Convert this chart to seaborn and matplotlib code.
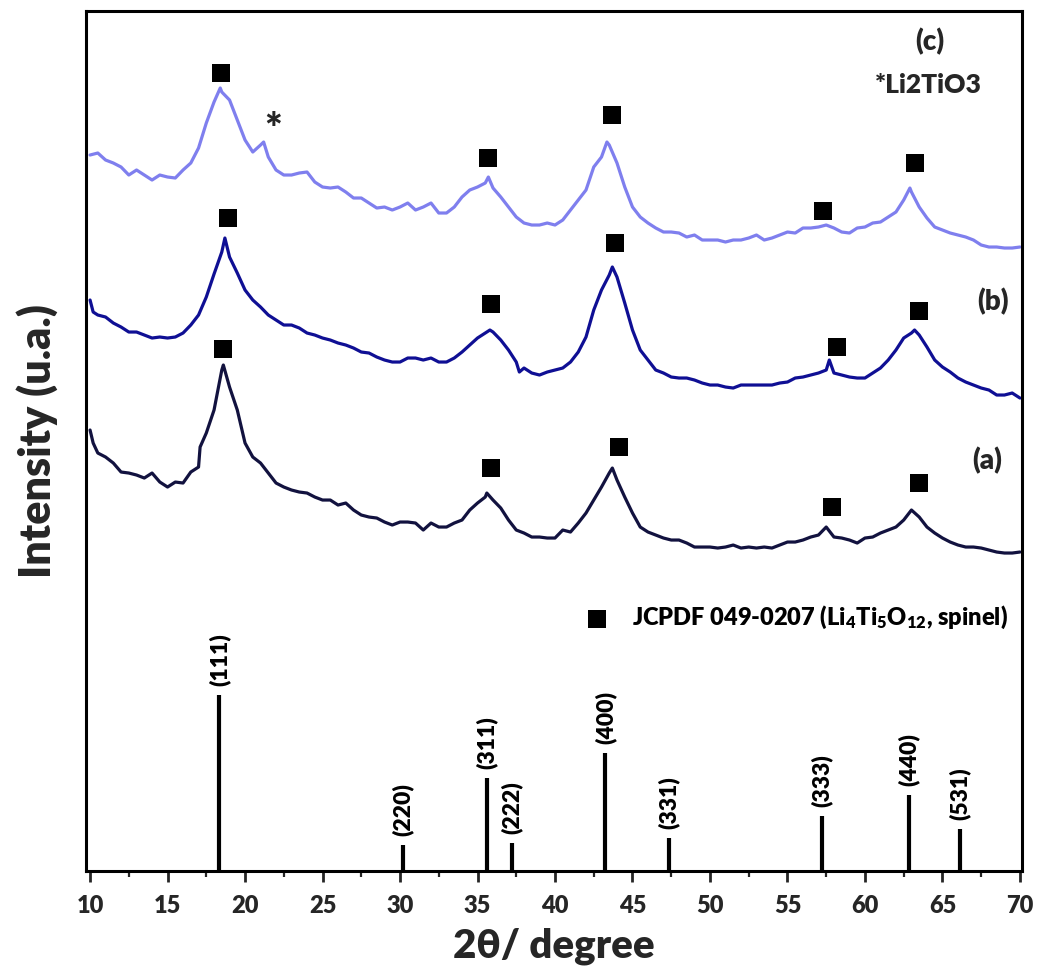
import numpy as np
import pandas as pd
import matplotlib
matplotlib.use("Agg")
import matplotlib.pyplot as plt
import seaborn as sns

# ---- measured XRD patterns (2theta in degrees, intensity in a.u., stacked) ----
tt_c = [10, 10.5, 11, 11.5, 12, 12.5, 13, 13.5, 14, 14.5, 15, 15.5, 16, 16.5, 17, 17.5, 18, 18.4, 18.5,
        19, 19.5, 20, 20.5, 21, 21.2, 21.5, 22, 22.5, 23, 23.5, 24, 24.5, 25, 25.5, 26, 26.5, 27, 27.5,
        28, 28.5, 29, 29.5, 30, 30.5, 31, 31.5, 32, 32.5, 33, 33.5, 34, 34.5, 35, 35.5, 35.7, 36, 36.5,
        37, 37.5, 38, 38.5, 39, 39.5, 40, 40.5, 41, 41.5, 42, 42.5, 43, 43.35, 43.5, 44, 44.5, 45, 45.5,
        46, 46.5, 47, 47.5, 48, 48.5, 49, 49.5, 50, 50.5, 51, 51.5, 52, 52.5, 53, 53.5, 54, 54.5, 55,
        55.5, 56, 56.5, 57, 57.5, 58, 58.5, 59, 59.5, 60, 60.5, 61, 61.5, 62, 62.5, 62.9, 63, 63.5, 64,
        64.5, 65, 65.5, 66, 66.5, 67, 67.5, 68, 68.5, 69, 69.5, 70]
int_c = [716, 718, 711, 708, 704, 696, 701, 696, 691, 696, 694, 693, 701, 708, 723, 748, 769, 783, 779,
         771, 751, 731, 719, 726, 729, 714, 701, 696, 696, 698, 699, 689, 684, 683, 684, 679, 673, 673,
         668, 663, 664, 661, 664, 668, 661, 664, 668, 658, 658, 664, 674, 681, 684, 688, 694, 683, 674,
         664, 654, 648, 646, 646, 648, 646, 651, 661, 671, 681, 704, 714, 729, 726, 708, 684, 664, 654,
         648, 643, 639, 639, 638, 634, 636, 631, 631, 631, 629, 631, 631, 633, 636, 631, 633, 636, 639,
         638, 643, 643, 644, 646, 643, 639, 638, 643, 644, 648, 649, 654, 659, 671, 683, 679, 664, 653,
         644, 641, 638, 636, 634, 631, 626, 624, 624, 623, 623, 624]

tt_b = [10, 10.2, 10.5, 11, 11.5, 12, 12.5, 13, 13.5, 14, 14.5, 15, 15.5, 16, 16.5, 17, 17.5, 18, 18.5,
        18.7, 19, 19.5, 20, 20.5, 21, 21.5, 22, 22.5, 23, 23.5, 24, 24.5, 25, 25.5, 26, 26.5, 27, 27.5,
        28, 28.5, 29, 29.5, 30, 30.5, 31, 31.5, 32, 32.5, 33, 33.5, 34, 34.5, 35, 35.5, 35.8, 36, 36.5,
        37, 37.5, 37.7, 38, 38.5, 39, 39.5, 40, 40.5, 41, 41.5, 42, 42.5, 43, 43.5, 43.7, 44, 44.5, 45,
        45.5, 46, 46.5, 47, 47.5, 48, 48.5, 49, 49.5, 50, 50.5, 51, 51.5, 52, 52.5, 53, 53.5, 54, 54.5,
        55, 55.5, 56, 56.5, 57, 57.5, 57.7, 58, 58.5, 59, 59.5, 60, 60.5, 61, 61.5, 62, 62.5, 63, 63.2,
        63.5, 64, 64.5, 65, 65.5, 66, 66.5, 67, 67.5, 68, 68.5, 69, 69.5, 70]
int_b = [571, 559, 556, 554, 548, 544, 539, 539, 536, 533, 534, 533, 534, 538, 546, 556, 574, 597, 619,
         633, 614, 598, 581, 571, 564, 556, 551, 546, 546, 543, 538, 536, 533, 531, 528, 526, 523, 519,
         518, 514, 511, 509, 509, 513, 513, 511, 513, 509, 509, 513, 519, 526, 533, 538, 541, 539, 531,
         521, 509, 499, 503, 498, 496, 499, 501, 503, 509, 519, 534, 561, 581, 596, 604, 594, 568, 541,
         521, 511, 501, 498, 494, 493, 493, 491, 488, 486, 486, 484, 483, 486, 486, 486, 486, 486, 488,
         489, 493, 494, 496, 498, 501, 511, 498, 496, 494, 493, 493, 498, 503, 511, 521, 533, 538, 541,
         536, 524, 511, 504, 499, 493, 489, 486, 483, 481, 476, 476, 478, 473]

tt_a = [10, 10.2, 10.5, 11, 11.5, 12, 12.5, 13, 13.5, 14, 14.5, 15, 15.5, 16, 16.5, 17, 17.1, 17.5, 18,
        18.5, 18.6, 19, 19.5, 20, 20.5, 21, 21.5, 22, 22.5, 23, 23.5, 24, 24.5, 25, 25.5, 26, 26.5, 27,
        27.5, 28, 28.5, 29, 29.5, 30, 30.5, 31, 31.5, 32, 32.5, 33, 33.5, 34, 34.5, 35, 35.5, 35.6, 36,
        36.5, 37, 37.5, 38, 38.5, 39, 39.5, 40, 40.5, 41, 41.5, 42, 42.5, 43, 43.5, 43.7, 44, 44.5, 45,
        45.5, 46, 46.5, 47, 47.5, 48, 48.5, 49, 49.5, 50, 50.5, 51, 51.5, 52, 52.5, 53, 53.5, 54, 54.5,
        55, 55.5, 56, 56.5, 57, 57.5, 58, 58.5, 59, 59.5, 60, 60.5, 61, 61.5, 62, 62.5, 63, 63.5, 64,
        64.5, 65, 65.5, 66, 66.5, 67, 67.5, 68, 68.5, 69, 69.5, 70]
int_a = [441, 428, 418, 414, 408, 399, 398, 396, 393, 398, 389, 384, 389, 388, 399, 404, 424, 438, 461,
         501, 506, 484, 461, 428, 414, 408, 398, 388, 384, 381, 379, 378, 374, 371, 371, 366, 368, 361,
         356, 354, 353, 349, 346, 349, 349, 348, 341, 348, 344, 344, 348, 351, 361, 368, 374, 378, 371,
         363, 351, 341, 338, 334, 334, 333, 333, 341, 339, 348, 358, 371, 384, 398, 403, 391, 374, 358,
         344, 339, 336, 333, 331, 331, 328, 324, 324, 324, 323, 324, 326, 323, 324, 323, 324, 323, 326,
         329, 329, 331, 334, 336, 344, 334, 333, 331, 328, 333, 334, 338, 341, 344, 351, 361, 354, 344,
         338, 333, 329, 326, 324, 324, 323, 321, 319, 318, 318, 319]

# ---- spinel peak markers on each pattern ----
mark_c_x = [18.45, 35.7, 43.7, 57.3, 63.2]
mark_c_y = [798, 713, 756, 660, 708]
mark_b_x = [18.9, 35.9, 43.9, 58.2, 63.5]
mark_b_y = [653, 567, 628, 524, 560]
mark_a_x = [18.6, 35.9, 44.1, 57.9, 63.5]
mark_a_y = [522, 403, 424, 364, 388]

# ---- JCPDF 049-0207 reference lines (Li4Ti5O12) ----
ref_pos = [18.35, 30.2, 35.6, 37.2, 43.25, 47.35, 57.2, 62.85, 66.1]
ref_rel = [100, 15, 53, 16, 67, 19, 31, 43, 24]
ref_hkl = ["(111)", "(220)", "(311)", "(222)", "(400)", "(331)", "(333)", "(440)", "(531)"]
ref_scale = 1.76

xticks = [10, 15, 20, 25, 30, 35, 40, 45, 50, 55, 60, 65, 70]

sns.set_theme(style="ticks")
plt.rcParams["font.family"] = ["Lato", "DejaVu Sans"]
plt.rcParams["font.weight"] = "bold"
plt.rcParams["mathtext.fontset"] = "custom"
plt.rcParams["mathtext.rm"] = "Lato:heavy"
plt.rcParams["mathtext.bf"] = "Lato:heavy"
plt.rcParams["mathtext.it"] = "Lato:heavy"

W = "heavy"

fig = plt.figure(figsize=(10.39, 9.74), dpi=100)
ax = fig.add_axes([0.0828, 0.1057, 0.9008, 0.883])

col_c = "#7f7fee"
col_b = "#0f0f94"
col_a = "#12123f"

for tt, inten, col in [(tt_c, int_c, col_c), (tt_b, int_b, col_b), (tt_a, int_a, col_a)]:
    df = pd.DataFrame({"two_theta": tt, "intensity": inten})
    sns.lineplot(data=df, x="two_theta", y="intensity", ax=ax, color=col, linewidth=2.3,
                 estimator=None, sort=False)

marks = pd.DataFrame({"x": mark_c_x + mark_b_x + mark_a_x + [42.7],
                      "y": mark_c_y + mark_b_y + mark_a_y + [252]})
sns.scatterplot(data=marks, x="x", y="y", ax=ax, marker="s", s=160, color="black",
                edgecolor="black", linewidth=0, zorder=5)

# stick pattern
heights = [r * ref_scale for r in ref_rel]
ax.vlines(ref_pos, 0, heights, colors="black", linewidth=3.0)
for p, h, lab in zip(ref_pos, heights, ref_hkl):
    ax.text(p, h + 9, lab, rotation=90, ha="center", va="bottom", fontsize=16.5,
            fontweight=W, color="black")

ax.text(45.0, 254, r"JCPDF 049-0207 (Li$_{4}$Ti$_{5}$O$_{12}$, spinel)", ha="left", va="center",
        fontsize=17, fontweight=W, color="black")
ax.text(64.2, 829, "(c)", ha="center", va="center", fontsize=20, fontweight=W)
ax.text(64.1, 786, "*Li2TiO3", ha="center", va="center", fontsize=19, fontweight=W)
ax.text(68.26, 569, "(b)", ha="center", va="center", fontsize=20, fontweight=W)
ax.text(67.9, 410, "(a)", ha="center", va="center", fontsize=20, fontweight=W)
ax.text(21.8, 740, "*", ha="center", va="center", fontsize=30, fontweight=W)

ax.set_xlim(9.74, 70.13)
ax.set_ylim(0, 860)
ax.set_xticks(xticks)
ax.set_xticks([x + 2.5 for x in xticks[:-1]], minor=True)
ax.set_yticks([])
ax.tick_params(axis="x", which="major", direction="out", length=8, width=2, labelsize=17,
               pad=9, top=False, bottom=True)
ax.tick_params(axis="x", which="minor", direction="out", length=4, width=1.6, top=False, bottom=True)
for lab in ax.get_xticklabels():
    lab.set_fontweight(W)
for sp in ax.spines.values():
    sp.set_visible(True)
    sp.set_linewidth(2.2)
    sp.set_color("black")

ax.set_xlabel("2θ/ degree", fontsize=29, fontweight=W, labelpad=8)
ax.set_ylabel("Intensity (u.a.)", fontsize=31, fontweight=W, labelpad=20)

fig.savefig("out.png", dpi=100)
